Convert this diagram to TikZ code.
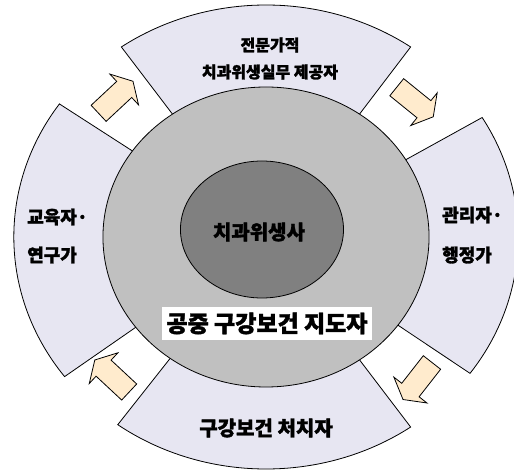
\documentclass[tikz,border=0pt]{standalone}
\usepackage{fontspec}
\newfontfamily\kr{Noto Sans CJK KR}[FakeBold=1.6]
\definecolor{sectorfill}{RGB}{231,230,242}
\definecolor{ringgray}{RGB}{192,192,192}
\definecolor{coregray}{RGB}{128,128,128}
\definecolor{arrowfill}{RGB}{255,235,205}
\tikzset{
  sector/.style={draw=black, line width=0.8pt, fill=sectorfill},
  cyclearrowshape/.style={draw=black, line width=0.8pt, fill=arrowfill, line join=miter},
  roletext/.style={font=\kr\bfseries, inner sep=0pt},
}
% ring piece from angle #1 to #2
\newcommand{\ringsector}[2]{\draw[sector] (#1:140) -- (#1:232) arc[start angle=#1, end angle=#2, radius=232] -- (#2:140) arc[start angle=#2, end angle=#1, radius=140] -- cycle;}
% block arrow at (#1,#2), pointing to angle #3
\newcommand{\cyclearrow}[3]{\draw[cyclearrowshape, shift={(#1,#2)}, rotate=#3] (-23.5,-11) -- (11.5,-11) -- (11.5,-21) -- (23.5,0) -- (11.5,21) -- (11.5,11) -- (-23.5,11) -- cycle;}
\begin{document}
\begin{tikzpicture}[x=1pt, y=1pt]
  \useasboundingbox (0,0) rectangle (514,471);
  \begin{scope}[shift={(266,234)}, xscale=1.087]
    \ringsector{55}{125}
    \ringsector{-36}{31}
    \ringsector{234}{305}
    \ringsector{145}{217}
    \draw[line width=0.8pt, fill=ringgray] (0,0) circle[radius=150];
    \draw[line width=0.8pt, fill=coregray] (-3.7,7.5) ellipse[x radius=75, y radius=68.5];
  \end{scope}
  \node[roletext, fill=white, minimum width=210pt, minimum height=33pt, font=\kr\bfseries\fontsize{23}{23}\selectfont] (leader) at (267,147.5) {공중 구강보건 지도자};
  \node[roletext, font=\kr\bfseries\fontsize{20}{20}\selectfont] (hygienist) at (259,239) {치과위생사};
  \node[roletext, align=center, font=\kr\bfseries\fontsize{16}{27}\selectfont] (expert) at (270,412.5) {전문가적\\치과위생실무 제공자};
  \node[roletext, align=left, anchor=west, font=\kr\bfseries\fontsize{18}{38}\selectfont] (educator) at (27,235) {교육자·\\연구가};
  \node[roletext, align=left, anchor=west, font=\kr\bfseries\fontsize{18}{40}\selectfont] (manager) at (442,236) {관리자·\\행정가};
  \node[roletext, font=\kr\bfseries\fontsize{20}{20}\selectfont] (care) at (266,43) {구강보건 처치자};
  \cyclearrow{115.8}{373.7}{43}
  \cyclearrow{415}{369}{-39}
  \cyclearrow{417.5}{90}{232}
  \cyclearrow{112}{95}{137}
\end{tikzpicture}
\end{document}
